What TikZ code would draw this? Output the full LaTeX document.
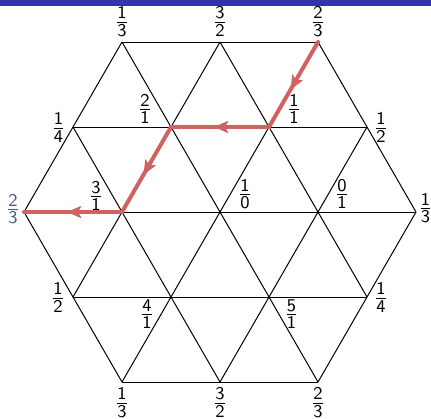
\documentclass[tikz,border=0pt]{standalone}
\usetikzlibrary{arrows.meta,decorations.markings}
\definecolor{barblue}{RGB}{51,51,178}
\definecolor{pathred}{RGB}{208,98,98}
\definecolor{slateblue}{RGB}{72,88,128}
\tikzset{
  grid/.style={black, line width=0.5pt},
  lab/.style={inner sep=0pt, font=\fontsize{13}{15}\selectfont},
  redpath/.style={pathred, line width=2pt, line cap=round, line join=round},
  midarrow/.style={postaction={decorate, decoration={markings,
      mark=at position 0.56 with {\arrow{Stealth[length=7pt,width=6pt,inset=1.5pt]}}}}}
}
\newcommand{\fr}[2]{$\frac{\mathsf{#1}}{\mathsf{#2}}$}
\begin{document}
\begin{tikzpicture}[x=0.5pt,y=-0.5pt]
\useasboundingbox (0,0) rectangle (431,418);
\fill[barblue] (0,0) rectangle (431,6);
% vertices
\coordinate (A1) at (122,42); \coordinate (A2) at (220,42); \coordinate (A3) at (318,42);
\coordinate (B1) at (73,127); \coordinate (B2) at (171,127); \coordinate (B3) at (269,127); \coordinate (B4) at (367,127);
\coordinate (C1) at (24,212); \coordinate (C2) at (122,212); \coordinate (C3) at (220,212); \coordinate (C4) at (318,212); \coordinate (C5) at (416,212);
\coordinate (D1) at (73,297); \coordinate (D2) at (171,297); \coordinate (D3) at (269,297); \coordinate (D4) at (367,297);
\coordinate (E1) at (122,382); \coordinate (E2) at (220,382); \coordinate (E3) at (318,382);
% horizontal lines
\draw[grid] (A1) -- (A3);
\draw[grid] (B1) -- (B4);
\draw[grid] (C1) -- (C5);
\draw[grid] (D1) -- (D4);
\draw[grid] (E1) -- (E3);
% / lines
\draw[grid] (A1) -- (C1);
\draw[grid] (A2) -- (D1);
\draw[grid] (A3) -- (E1);
\draw[grid] (B4) -- (E2);
\draw[grid] (C5) -- (E3);
% \ lines
\draw[grid] (A3) -- (C5);
\draw[grid] (A2) -- (D4);
\draw[grid] (A1) -- (E3);
\draw[grid] (B1) -- (E2);
\draw[grid] (C1) -- (E1);
% red path
\draw[redpath, midarrow] (A3) -- (B3);
\draw[redpath, midarrow] (B3) -- (B2);
\draw[redpath, midarrow] (B2) -- (C2);
\draw[redpath, midarrow] (C2) -- (C1);
% labels
\node[lab] (lA1) at (122,21.5) {\fr{1}{3}};
\node[lab] (lA2) at (220,21.5) {\fr{3}{2}};
\node[lab] (lA3) at (318,21.5) {\fr{2}{3}};
\node[lab] (lB1) at (58.5,127.5) {\fr{1}{4}};
\node[lab] (lB2) at (145,109) {\fr{2}{1}};
\node[lab] (lB3) at (294,109) {\fr{1}{1}};
\node[lab] (lB4) at (381,127.5) {\fr{1}{2}};
\node[lab, text=slateblue] (lC1) at (13,209) {\fr{2}{3}};
\node[lab] (lC2) at (96,196) {\fr{3}{1}};
\node[lab] (lC3) at (245,194) {\fr{1}{0}};
\node[lab] (lC4) at (342,194) {\fr{0}{1}};
\node[lab] (lC5) at (425.5,208) {\fr{1}{3}};
\node[lab] (lD1) at (58,297.5) {\fr{1}{2}};
\node[lab] (lD2) at (147,314) {\fr{4}{1}};
\node[lab] (lD3) at (291.5,314) {\fr{5}{1}};
\node[lab] (lD4) at (381,297.5) {\fr{1}{4}};
\node[lab] (lE1) at (122,402.5) {\fr{1}{3}};
\node[lab] (lE2) at (220,402.5) {\fr{3}{2}};
\node[lab] (lE3) at (318,402.5) {\fr{2}{3}};
\end{tikzpicture}
\end{document}
